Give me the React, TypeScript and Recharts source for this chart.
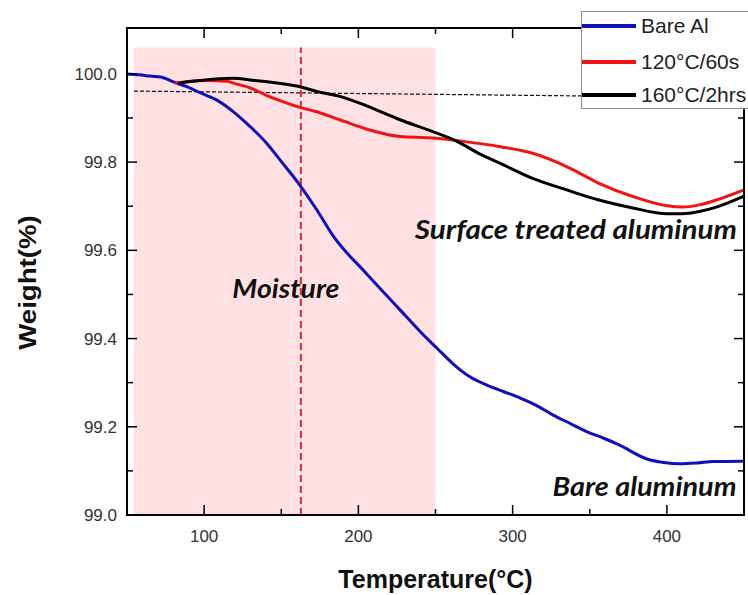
import React from 'react';
import * as R from 'recharts';
import { ComposedChart, Line, XAxis, YAxis, ReferenceArea, ReferenceLine, ReferenceDot } from 'recharts';

// ---- data ----
const bareT = [50, 58, 65, 72, 80, 88, 97, 108, 119, 130, 140.5, 151, 162, 173, 184, 205, 227, 240, 251, 261, 272, 283, 294, 305, 315, 326, 337, 348, 359, 369, 387, 398, 408, 420, 430, 450];
const bareW = [100.0, 99.998, 99.995, 99.993, 99.982, 99.972, 99.958, 99.941, 99.914, 99.88, 99.843, 99.797, 99.748, 99.692, 99.631, 99.548, 99.465, 99.416, 99.378, 99.344, 99.314, 99.295, 99.28, 99.265, 99.249, 99.227, 99.208, 99.189, 99.174, 99.159, 99.127, 99.119, 99.116, 99.118, 99.121, 99.122];

const t120T = [81, 90, 100, 115, 119, 130, 140, 151, 162, 173, 188, 205, 227, 246, 268, 292, 313, 335, 356, 378, 400, 410, 421, 432, 450];
const t120W = [99.979, 99.983, 99.985, 99.983, 99.979, 99.968, 99.952, 99.937, 99.924, 99.914, 99.896, 99.875, 99.858, 99.855, 99.847, 99.835, 99.82, 99.79, 99.752, 99.722, 99.701, 99.698, 99.703, 99.714, 99.737];

const t160T = [83, 97, 118, 133, 150, 162, 173, 188, 205, 227, 246, 264, 279, 292, 313, 335, 356, 378, 400, 410, 421, 432, 450];
const t160W = [99.979, 99.985, 99.99, 99.985, 99.978, 99.971, 99.96, 99.949, 99.928, 99.896, 99.872, 99.847, 99.818, 99.797, 99.763, 99.737, 99.714, 99.696, 99.683, 99.683, 99.688, 99.698, 99.723];

const seriesNames = ['Bare Al', '120°C/60s', '160°C/2hrs'];
const seriesColors = ['#1010B8', '#F01414', '#000000'];

const xDomain = [50, 450];
const yDomain = [99.0, 100.104];
const xTicks = [100, 150, 200, 250, 300, 350, 400];
const yTicks = [99.0, 99.1, 99.2, 99.3, 99.4, 99.5, 99.6, 99.7, 99.8, 99.9, 100.0];

const moistureRange = [54.5, 250];
const moistureTop = 100.06;
const peakT = 162.7;
const baselineStart = { t: 54.5, w: 99.961 };
const baselineEnd = { t: 450, w: 99.946 };

const annotations = [
  { text: 'Moisture', t: 153, w: 99.512, len: 107 },
  { text: 'Surface treated aluminum', t: 341, w: 99.645, len: 322 },
  { text: 'Bare aluminum', t: 385.5, w: 99.063, len: 184 },
];

const toPts = (ts: number[], ws: number[]) => ts.map((t, i) => ({ t, w: ws[i] }));
const bareData = toPts(bareT, bareW);
const d120 = toPts(t120T, t120W);
const d160 = toPts(t160T, t160W);

const AX = '#000';
const FONT = '"Liberation Sans", Arial, sans-serif';

const isMajorX = (v: number) => v % 100 === 0;
const isMajorY = (v: number) => Math.round(v * 10) % 2 === 0;

const frameSegments = [
  [{ x: xDomain[0], y: yDomain[1] }, { x: xDomain[1], y: yDomain[1] }],
  [{ x: xDomain[0], y: yDomain[0] }, { x: xDomain[0], y: yDomain[1] }],
  [{ x: xDomain[1], y: yDomain[0] }, { x: xDomain[1], y: yDomain[1] }],
  [{ x: xDomain[0], y: yDomain[0] }, { x: xDomain[1], y: yDomain[0] }],
];

const Frame = () => {
  const hook: any = (R as any).usePlotArea || (R as any).useOffset;
  const area = hook ? hook() : null;
  if (!area) return null;
  const x = area.x ?? area.left;
  const y = area.y ?? area.top;
  const w = area.width ?? 0;
  const h = area.height ?? 0;
  if (x == null || y == null) return null;
  return <rect x={x} y={y} width={w} height={h} fill="none" stroke={AX} strokeWidth={2} />;
};

const XTickBottom = (p: any) => {
  const { x, y, payload } = p;
  const v = payload.value;
  const major = isMajorX(v);
  return (
    <g>
      <line x1={x} y1={y} x2={x} y2={y - (major ? 10 : 6)} stroke={AX} strokeWidth={1.5} />
      {major && (
        <text x={x} y={y + 27} textAnchor="middle" fontSize={17} fontFamily={FONT} fill="#333">{v}</text>
      )}
    </g>
  );
};
const XTickTop = (p: any) => {
  const { x, y, payload } = p;
  const major = isMajorX(payload.value);
  return <line x1={x} y1={y} x2={x} y2={y + (major ? 10 : 6)} stroke={AX} strokeWidth={1.5} />;
};
const YTickLeft = (p: any) => {
  const { x, y, payload } = p;
  const v = payload.value;
  const major = isMajorY(v);
  return (
    <g>
      <line x1={x} y1={y} x2={x + (major ? 10 : 6)} y2={y} stroke={AX} strokeWidth={1.5} />
      {major && (
        <text x={x - 10} y={y + 6} textAnchor="end" fontSize={17} fontFamily={FONT} fill="#333">{v.toFixed(1)}</text>
      )}
    </g>
  );
};
const YTickRight = (p: any) => {
  const { x, y, payload } = p;
  const major = isMajorY(payload.value);
  return <line x1={x} y1={y} x2={x - (major ? 10 : 6)} y2={y} stroke={AX} strokeWidth={1.5} />;
};

const LegendBox = () => (
  <div style={{ position: 'absolute', left: 581, top: 11, width: 180, height: 96, background: '#fff', border: '1.5px solid #8c8c8c', fontFamily: FONT }}>
    {seriesNames.map((n, i) => (
      <div key={n} style={{ position: 'absolute', left: 0, top: [1, 37, 70][i], height: 26, display: 'flex', alignItems: 'center' }}>
        <div style={{ width: 54, height: 4, background: seriesColors[i] }} />
        <span style={{ marginLeft: 5, fontSize: 21, color: '#222', whiteSpace: 'nowrap' }}>{n}</span>
      </div>
    ))}
  </div>
);

const AnnoLabel = (text: string, len: number) => (p: any) => {
  const vb = p.viewBox || {};
  const cx = vb.x + (vb.width || 0) / 2;
  const cy = vb.y + (vb.height || 0) / 2;
  return (
    <text x={cx - len / 2} y={cy + 9} textLength={len} lengthAdjust="spacingAndGlyphs" fontSize={27} fontStyle="italic" fontWeight="bold" fontFamily="Lato, sans-serif" fill="#111">
      {text}
    </text>
  );
};

export default function App() {
  return (
    <div style={{ position: 'absolute', left: 0, top: 0, width: 748, height: 595, background: '#fff', overflow: 'hidden' }}>
      <ComposedChart width={748} height={595} margin={{ top: 27, right: 3, bottom: 0, left: 0 }}>
        <XAxis xAxisId="b" type="number" dataKey="t" domain={xDomain} ticks={xTicks} interval={0}
          allowDataOverflow orientation="bottom" height={80} tickSize={0} tickMargin={0}
          axisLine={{ stroke: AX, strokeWidth: 2 }} tickLine={false} tick={<XTickBottom />}
          label={(p: any) => {
            const vb = p.viewBox;
            return (
              <text x={vb.x + vb.width / 2} y={588} textAnchor="middle" fontSize={25} fontWeight="bold" fontFamily={FONT} fill="#111">
                Temperature(°C)
              </text>
            );
          }} />
        <XAxis xAxisId="t" type="number" dataKey="t" domain={xDomain} ticks={xTicks} interval={0}
          allowDataOverflow orientation="top" height={1} tickSize={0} tickMargin={0}
          axisLine={{ stroke: AX, strokeWidth: 2 }} tickLine={false} tick={<XTickTop />} />
        <YAxis yAxisId="l" type="number" domain={yDomain} ticks={yTicks} interval={0}
          allowDataOverflow orientation="left" width={127} tickSize={0} tickMargin={0}
          axisLine={{ stroke: AX, strokeWidth: 2 }} tickLine={false} tick={<YTickLeft />}
          label={(p: any) => {
            const vb = p.viewBox;
            const cy = vb.y + vb.height / 2 + 11;
            return (
              <text x={0} y={0} transform={`translate(36,${cy}) rotate(-90) scale(1.15,1)`} textAnchor="middle" fontSize={24} fontWeight="bold" fontFamily={FONT} fill="#111">
                Weight(%)
              </text>
            );
          }} />
        <YAxis yAxisId="r" type="number" domain={yDomain} ticks={yTicks} interval={0}
          allowDataOverflow orientation="right" width={1} tickSize={0} tickMargin={0}
          axisLine={{ stroke: AX, strokeWidth: 2 }} tickLine={false} tick={<YTickRight />} />

        <ReferenceArea xAxisId="b" yAxisId="l" x1={moistureRange[0]} x2={moistureRange[1]} y1={yDomain[0]} y2={moistureTop}
          fill="#FFE1E4" fillOpacity={1} stroke="none" />
        <ReferenceLine xAxisId="b" yAxisId="l" segment={[{ x: peakT, y: yDomain[0] }, { x: peakT, y: moistureTop }]}
          stroke="#E02828" strokeWidth={2} strokeDasharray="7 4" />
        <ReferenceLine xAxisId="b" yAxisId="l" segment={[{ x: baselineStart.t, y: baselineStart.w }, { x: baselineEnd.t, y: baselineEnd.w }]}
          stroke="#111" strokeWidth={1.2} strokeDasharray="4 2" />

        <Line xAxisId="b" yAxisId="l" data={bareData} dataKey="w" name={seriesNames[0]} type="monotone" stroke={seriesColors[0]} strokeWidth={3} dot={false} isAnimationActive={false} />
        <Line xAxisId="b" yAxisId="l" data={d120} dataKey="w" name={seriesNames[1]} type="monotone" stroke={seriesColors[1]} strokeWidth={3} dot={false} isAnimationActive={false} />
        <Line xAxisId="b" yAxisId="l" data={d160} dataKey="w" name={seriesNames[2]} type="monotone" stroke={seriesColors[2]} strokeWidth={3} dot={false} isAnimationActive={false} />

        {frameSegments.map((s, i) => (
          <ReferenceLine key={'f' + i} xAxisId="b" yAxisId="l" segment={s} ifOverflow="visible" stroke={AX} strokeWidth={2} />
        ))}
        <Frame />

        {annotations.map((a) => (
          <ReferenceDot key={a.text} xAxisId="b" yAxisId="l" x={a.t} y={a.w} r={0} fill="none" stroke="none" label={AnnoLabel(a.text, a.len)} />
        ))}
      </ComposedChart>
      <LegendBox />
    </div>
  );
}
